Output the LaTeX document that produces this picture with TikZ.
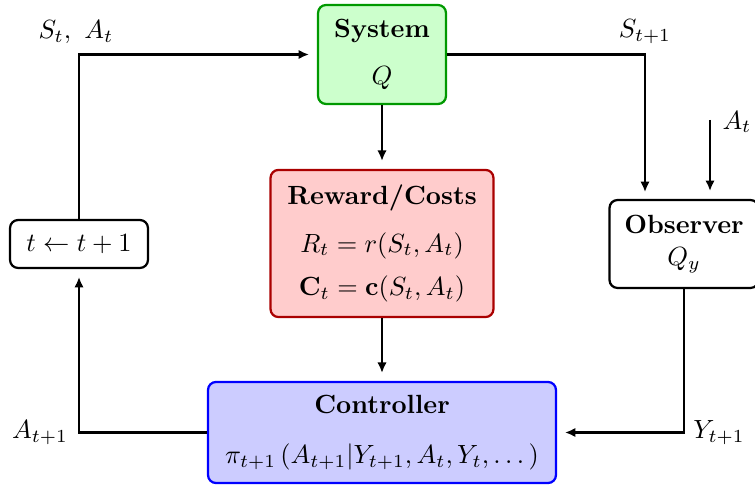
\documentclass[tikz,border=0pt]{standalone}
\usetikzlibrary{arrows.meta}
\definecolor{sysfill}{HTML}{CCFFCC}
\definecolor{sysdraw}{HTML}{009900}
\definecolor{rewfill}{HTML}{FFCCCC}
\definecolor{rewdraw}{HTML}{AA0000}
\definecolor{ctlfill}{HTML}{CCCCFF}
\definecolor{ctldraw}{HTML}{0000FF}
\begin{document}
\begin{tikzpicture}[x=0.38pt,y=-0.38pt,
  box/.style={draw,line width=0.85pt,rounded corners=3pt,align=center,inner sep=0pt},
  arr/.style={line width=0.85pt,-{Latex[length=4pt,width=3.6pt]},shorten >=3pt},
  lbl/.style={inner sep=0pt}]
\useasboundingbox (0,0) rectangle (755,485);
\node[box,fill=sysfill,draw=sysdraw,minimum width=48.6pt,minimum height=37.6pt] (sys) at (382,54.5)
  {\textbf{System}\\[6pt]$Q$};
\node[box,fill=rewfill,draw=rewdraw,minimum width=84.7pt,minimum height=55.9pt] (rew) at (382,243.5)
  {\textbf{Reward/Costs}\\[6pt]$R_t = r(S_t, A_t)$\\[4.5pt]$\mathbf{C}_t = \mathbf{c}(S_t, A_t)$};
\node[box,fill=ctlfill,draw=ctldraw,minimum width=132.2pt,minimum height=38.4pt] (ctrl) at (382,432.5)
  {\textbf{Controller}\\[7pt]$\pi_{t+1}\left(A_{t+1}|Y_{t+1}, A_t, Y_t, \dots\,\right)$};
\node[box,fill=white,minimum width=52.4pt,minimum height=18.2pt] (tbox) at (79,244)
  {$t \leftarrow t+1$};
\node[box,fill=white,minimum width=56.6pt,minimum height=33.4pt] (obs) at (684,244)
  {\textbf{Observer}\\[0pt]$Q_y$};
\coordinate (obsin) at (645,200);
\coordinate (atstart) at (710,120);
\draw[arr] (tbox.north) |- (sys.west);
\draw[arr] (sys.east) -| (obsin);
\draw[arr] (atstart) -- (atstart |- obs.north);
\draw[arr] (sys.south) -- (rew.north);
\draw[arr] (rew.south) -- (ctrl.north);
\draw[arr] (obs.south) |- (ctrl.east);
\draw[arr] (ctrl.west) -| (tbox.south);
\node[lbl] (l1) at (76,32) {$S_t,\ A_t$};
\node[lbl] (l2) at (645,32) {$S_{t+1}$};
\node[lbl] (l3) at (737,122) {$A_t$};
\node[lbl] (l4) at (40,433) {$A_{t+1}$};
\node[lbl] (l5) at (719,433) {$Y_{t+1}$};
\end{tikzpicture}
\end{document}
